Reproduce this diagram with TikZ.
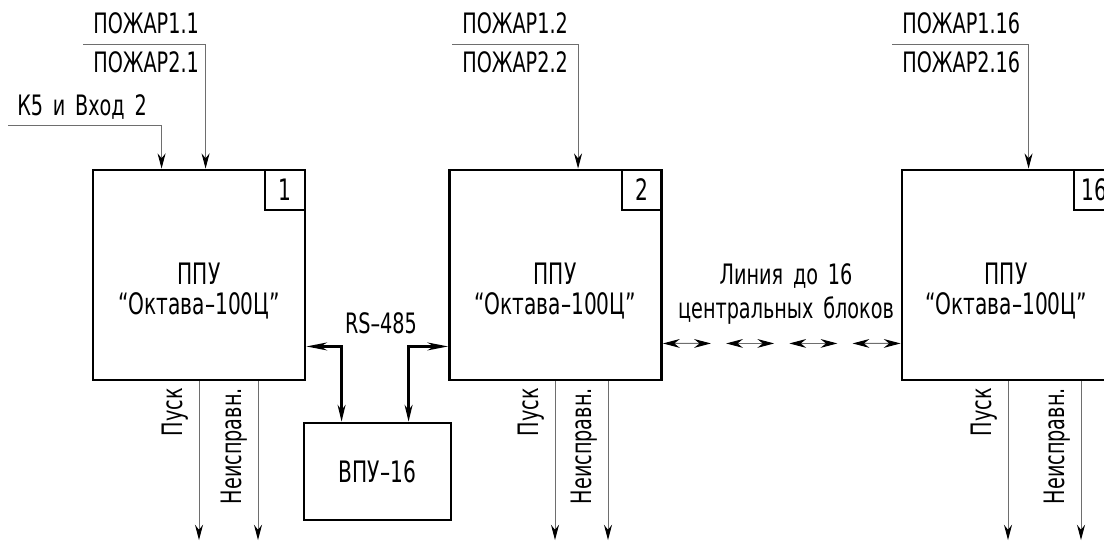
\documentclass[tikz,border=0pt]{standalone}
\usepackage{fontspec}
\setmainfont{DejaVu Sans Condensed}[FakeStretch=0.76, WordSpace=1.6]
\usetikzlibrary{arrows.meta,positioning,calc}
\definecolor{wireGray}{RGB}{110,110,110}

\begin{document}
\begin{tikzpicture}[x=0.025cm, y=-0.025cm,
    lbl/.style={font=\fontsize{20}{22}\selectfont, inner sep=0pt},
    ppubox/.style={draw, line width=2pt, minimum width=5.3cm,
      minimum height=5.25cm, inner sep=0pt},
    numbox/.style={draw, line width=1.5pt, minimum size=1cm, inner sep=0pt,
      anchor=north east, font=\fontsize{21}{22}\selectfont},
    pputext/.style={align=center, font=\fontsize{21}{21.3}\selectfont},
    sig/.style={wireGray, line width=0.7pt,
      -{Stealth[length=0.38cm, width=0.2cm, color=black]}},
    vlab/.style={lbl, rotate=90, anchor=south east},
    rsline/.style={line width=1.6pt,
      {Stealth[length=0.52cm, width=0.2cm]}-{Stealth[length=0.42cm, width=0.2cm]}},
    rsback/.style={line width=1.6pt,
      {Stealth[length=0.42cm, width=0.2cm]}-{Stealth[length=0.52cm, width=0.2cm]}},
    lnk/.style={wireGray, line width=0.7pt,
      {Stealth[length=0.42cm, width=0.22cm, color=black]}-{Stealth[length=0.42cm, width=0.22cm, color=black]}}
  ]
  \useasboundingbox (0,0) rectangle (1104,542);
  \clip (0,0) rectangle (1104,542);

  % control units
  \node[ppubox] (ppu1) at (199,275) {};
  \node[numbox] (num1) at (ppu1.north east) {1};
  \node[pputext] (ppu1txt) at (199,291) {ППУ\\“Октава–100Ц”};

  \node[ppubox] (ppu2) at (555.5,275) {};
  \node[numbox] (num2) at (ppu2.north east) {2};
  \node[pputext] (ppu2txt) at (555,291) {ППУ\\“Октава–100Ц”};

  \node[ppubox] (ppu16) at (1008,275) {};
  \node[numbox] (num16) at (ppu16.north east) {16};
  \node[pputext] (ppu16txt) at (1006,291) {ППУ\\“Октава–100Ц”};

  \node[draw, line width=2pt, minimum width=3.675cm, minimum height=2.425cm,
    font=\fontsize{21}{22}\selectfont] (vpu) at (377.5,471.5) {ВПУ–16};

  % inputs
  \node[lbl, anchor=base west] (fire11) at (93,33) {ПОЖАР1.1};
  \node[lbl, anchor=base west] (fire21) at (93,72) {ПОЖАР2.1};
  \node[lbl, anchor=base west] (k5in) at (17,115) {К5 и Вход 2};
  \node[lbl, anchor=base west] (fire12) at (462,33) {ПОЖАР1.2};
  \node[lbl, anchor=base west] (fire22) at (462,72) {ПОЖАР2.2};
  \node[lbl, anchor=base west] (fire116) at (902,33) {ПОЖАР1.16};
  \node[lbl, anchor=base west] (fire216) at (902,72) {ПОЖАР2.16};

  \coordinate (in1) at (83,44);
  \coordinate (in1k) at (8,125);
  \coordinate (in2) at (452,44);
  \coordinate (in16) at (892,44);
  \draw[sig] (in1) -| ($(ppu1.north west)+(114,0)$);
  \draw[sig] (in1k) -| ($(ppu1.north west)+(70,0)$);
  \draw[sig] (in2) -| ($(ppu2.north west)+(130,0)$);
  \draw[sig] (in16) -| ($(ppu16.north west)+(128,0)$);

  % outputs
  \coordinate (out1a) at (199,540);
  \coordinate (out1b) at (258,540);
  \coordinate (out2a) at (555,540);
  \coordinate (out2b) at (608,540);
  \coordinate (out16a) at (1008,540);
  \coordinate (out16b) at (1081,540);
  \draw[sig] (ppu1.south -| out1a) -- (out1a);
  \draw[sig] (ppu1.south -| out1b) -- (out1b);
  \draw[sig] (ppu2.south -| out2a) -- (out2a);
  \draw[sig] (ppu2.south -| out2b) -- (out2b);
  \draw[sig] (ppu16.south -| out16a) -- (out16a);
  \draw[sig] (ppu16.south -| out16b) -- (out16b);

  \node[vlab] (start1) at (189,388) {Пуск};
  \node[vlab] (fault1) at (248,388) {Неисправн.};
  \node[vlab] (start2) at (545,388) {Пуск};
  \node[vlab] (fault2) at (598,388) {Неисправн.};
  \node[vlab] (start16) at (998,388) {Пуск};
  \node[vlab] (fault16) at (1071,388) {Неисправн.};

  % RS-485 to the remote panel
  \node[lbl] (rslbl) at (381,323) {RS–485};
  \coordinate (rsL) at ($(ppu1.south east)+(0,-35)$);
  \coordinate (rsR) at ($(ppu2.south west)+(0,-35)$);
  \draw[rsline] (rsL) -| ($(vpu.north west)+(39,0)$);
  \draw[rsback] ($(vpu.north west)+(106,0)$) |- (rsR);

  % line to the other units
  \node[lbl, align=center, font=\fontsize{20}{24}\selectfont] (lnklbl) at (786,294)
    {Линия до 16\\центральных блоков};
  \coordinate (lnkA) at ($(ppu2.south east)+(0,-38)$);
  \coordinate (lnkB) at ($(ppu16.south west)+(0,-38)$);
  \foreach \s [evaluate=\s as \e using \s+0.202] in {0,0.266,0.532,0.798}
    \draw[lnk] ($(lnkA)!\s!(lnkB)$) -- ($(lnkA)!\e!(lnkB)$);
\end{tikzpicture}
\end{document}
